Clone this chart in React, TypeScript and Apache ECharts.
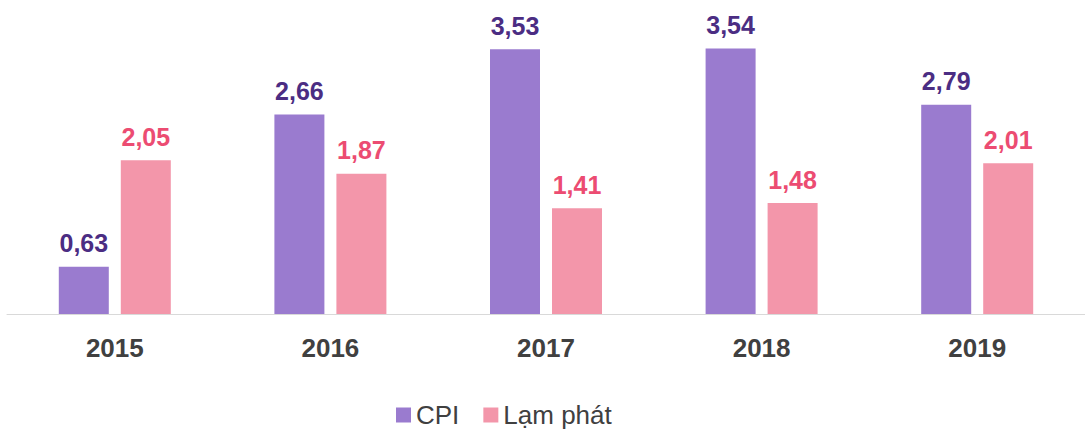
import React, { useEffect, useRef } from "react";
import * as echarts from "echarts";

const categories = ["2015", "2016", "2017", "2018", "2019"];
const cpiValues = [0.63, 2.66, 3.53, 3.54, 2.79];
const inflationValues = [2.05, 1.87, 1.41, 1.48, 2.01];
const seriesNames = ["CPI", "Lạm phát"];

const FONT = "'Liberation Sans', Arial, sans-serif";

const fmt = (v: number) => v.toFixed(2).replace(".", ",");

export default function App() {
  const ref = useRef<HTMLDivElement>(null);
  useEffect(() => {
    if (!ref.current) return;
    const chart = echarts.init(ref.current, undefined, { renderer: "svg" });
    chart.setOption({
      animation: false,
      backgroundColor: "#ffffff",
      textStyle: { fontFamily: FONT },
      grid: { left: 7, right: -2, top: 14, bottom: 116, containLabel: false },
      legend: {
        data: seriesNames,
        left: 391,
        top: 397,
        itemWidth: 15,
        itemHeight: 15,
        itemGap: 24,
        icon: "rect",
        textStyle: { fontSize: 26, color: "#404040", fontFamily: FONT },
      },
      xAxis: {
        type: "category",
        data: categories,
        axisTick: { show: false },
        axisLine: { lineStyle: { color: "#d9d9d9", width: 1 } },
        axisLabel: {
          fontSize: 26,
          fontWeight: "bold",
          color: "#404040",
          margin: 21,
          fontFamily: FONT,
        },
      },
      yAxis: {
        type: "value",
        min: 0,
        max: 4,
        show: false,
        splitLine: { show: false },
      },
      series: [
        {
          name: seriesNames[0],
          type: "bar",
          data: cpiValues,
          barWidth: 50,
          barGap: "24%",
          itemStyle: { color: "#9a7bcf" },
          label: {
            show: true,
            position: "top",
            distance: 11,
            fontSize: 25,
            fontWeight: "bold",
            color: "#4b2d83",
            fontFamily: FONT,
            formatter: (p: any) => fmt(p.value),
          },
        },
        {
          name: seriesNames[1],
          type: "bar",
          data: inflationValues,
          barWidth: 50,
          itemStyle: { color: "#f396aa" },
          label: {
            show: true,
            position: "top",
            distance: 11,
            fontSize: 25,
            fontWeight: "bold",
            color: "#ec4c72",
            fontFamily: FONT,
            formatter: (p: any) => fmt(p.value),
          },
        },
      ],
    });
    return () => chart.dispose();
  }, []);
  return (
    <div
      ref={ref}
      style={{ position: "absolute", left: 0, top: 0, width: 1085, height: 430 }}
    />
  );
}
